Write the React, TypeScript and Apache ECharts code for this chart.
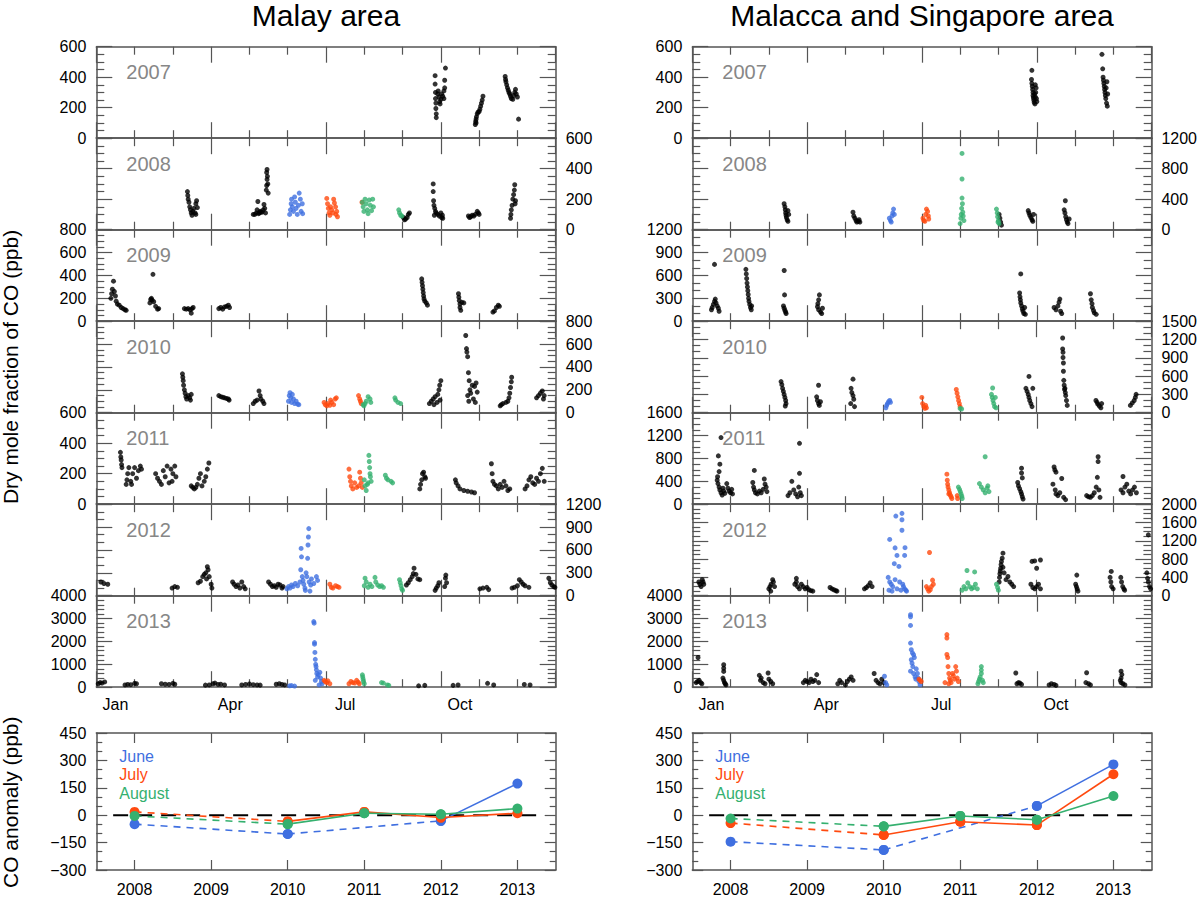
import React, { useEffect, useRef } from "react";
import * as echarts from "echarts";

// ---------------- data ----------------
const panelYears = [2007, 2008, 2009, 2010, 2011, 2012, 2013];
const monthLabels = ["Jan", "Apr", "Jul", "Oct"];
const monthLabelAt = [0.5, 3.5, 6.5, 9.5];
const anomalyYears = [2008, 2009, 2010, 2011, 2012, 2013];
const anomalyLegend = ["June", "July", "August"];
const zeroLineSpan = [2007.72, 2013.25];

const malayMax = [600, 600, 800, 800, 600, 1200, 4000];
const malayStep = [200, 200, 200, 200, 200, 300, 1000];
const malayMinor = [4, 4, 4, 4, 4, 3, 5];
const malaccaMax = [600, 1200, 1200, 1500, 1600, 2000, 4000];
const malaccaStep = [200, 400, 300, 300, 400, 400, 1000];
const malaccaMinor = [4, 4, 3, 3, 4, 4, 5];
const anomalyMin = -300;
const anomalyMax = 450;
const anomalyStep = 150;

// CO anomaly (ppb) per year 2008..2013 (null = no data)
const malayJuneAnomaly = [-49, null, -103, null, -31, 173];
const malayJulyAnomaly = [18, null, -34, 18, -13, 11];
const malayAugustAnomaly = [-4, null, -49, 11, 5, 36];
const malaccaJuneAnomaly = [-145, null, -190, null, 51, 278];
const malaccaJulyAnomaly = [-43, null, -108, -36, -54, 224];
const malaccaAugustAnomaly = [-18, null, -61, -4, -25, 105];

// scatter: [month (0..12), CO ppb]
const malay2007Black = [[8.85,410],[8.85,355],[8.86,300],[8.86,260],[8.87,230],[8.87,195],[8.88,160],[8.88,135],[8.92,290],[8.93,310],[8.95,270],[8.97,240],[8.98,225],[9.0,255],[9.02,290],[9.05,275],[9.08,310],[9.08,260],[9.1,330],[9.1,380],[9.12,460],
  [9.9,90],[9.91,110],[9.92,100],[9.92,125],[9.93,140],[9.95,160],[9.97,170],[10.0,175],[10.02,190],[10.04,210],[10.06,230],[10.08,250],[10.1,275],
  [10.68,405],[10.69,385],[10.7,370],[10.72,350],[10.74,330],[10.76,315],[10.78,300],[10.8,290],[10.82,275],[10.84,260],[10.88,255],[10.9,280],[10.93,300],[10.95,320],[10.97,290],[11.0,270],[11.03,125]];

const malay2008Black = [[2.38,250],[2.39,225],[2.4,200],[2.42,180],[2.44,150],[2.46,130],[2.48,110],[2.5,95],[2.52,120],[2.55,140],[2.58,110],[2.6,170],[2.6,100],[2.62,190],[2.64,145],
  [4.1,100],[4.14,100],[4.18,110],[4.2,130],[4.22,185],[4.24,105],[4.26,110],[4.28,120],[4.3,115],[4.33,115],[4.36,130],[4.38,165],[4.4,140],[4.42,110],[4.44,260],[4.45,290],[4.45,375],[4.46,330],[4.46,395],[4.47,350],[4.48,300],[4.49,240],
  [8.02,80],[8.05,65],[8.08,70],[8.12,80],[8.15,100],[8.18,110],
  [8.8,300],[8.8,250],[8.81,190],[8.82,160],[8.83,95],[8.84,140],[8.86,120],[8.88,110],[8.92,100],[8.96,90],[9.0,110],[9.02,80],[9.04,95],[9.05,75],
  [9.72,90],[9.75,80],[9.78,85],[9.82,95],[9.86,90],[9.9,100],[9.95,120],[9.98,110],[10.0,100],
  [10.82,75],[10.83,100],[10.84,130],[10.86,160],[10.88,200],[10.9,230],[10.92,260],[10.93,295],[10.94,170],[10.95,190]];
const malay2008June = [[5.05,100],[5.07,130],[5.09,170],[5.1,200],[5.12,150],[5.15,120],[5.18,215],[5.2,180],[5.22,140],[5.25,100],[5.28,160],[5.3,240],[5.33,200],[5.35,120],[5.38,170],[5.39,105]];
const malay2008July = [[6.02,205],[6.04,170],[6.06,140],[6.08,110],[6.1,95],[6.12,150],[6.15,130],[6.18,110],[6.2,200],[6.22,175],[6.25,150],[6.26,100],[6.28,120],[6.3,85],[6.94,180]];
const malay2008August = [[6.95,180],[6.97,150],[6.99,120],[7.02,200],[7.05,170],[7.08,130],[7.1,105],[7.13,195],[7.16,160],[7.19,125],[7.22,200],[7.24,150],[7.9,130],[7.92,110],[7.95,95],[7.98,90]];

const malay2009Black = [[0.38,200],[0.4,240],[0.42,280],[0.45,350],[0.47,260],[0.5,220],[0.52,175],[0.55,150],[0.6,140],[0.65,120],[0.7,110],[0.75,100],[0.78,95],
  [1.4,160],[1.42,190],[1.44,200],[1.46,185],[1.48,410],[1.5,170],[1.55,130],[1.6,105],[1.63,110],
  [2.3,110],[2.35,105],[2.4,110],[2.45,100],[2.48,70],[2.5,110],[2.53,120],
  [3.2,110],[3.25,120],[3.3,105],[3.35,125],[3.4,130],[3.45,140],[3.48,120],
  [8.5,370],[8.51,340],[8.52,310],[8.53,280],[8.54,250],[8.55,220],[8.56,195],[8.58,175],[8.62,160],[8.65,140],
  [9.46,240],[9.47,210],[9.48,180],[9.5,150],[9.5,120],[9.52,95],[9.55,165],[9.6,160],
  [10.36,80],[10.4,90],[10.45,120],[10.5,140],[10.53,130]];

const malay2010Black = [[2.25,340],[2.26,310],[2.27,280],[2.28,240],[2.3,200],[2.32,170],[2.34,140],[2.36,120],[2.4,150],[2.44,130],[2.46,110],[2.48,160],
  [3.2,150],[3.25,140],[3.3,135],[3.35,130],[3.4,125],[3.45,120],[3.47,110],
  [4.1,80],[4.15,100],[4.2,110],[4.25,190],[4.28,150],[4.3,120],[4.35,100],[4.38,80],
  [8.7,80],[8.75,100],[8.8,120],[8.82,70],[8.85,140],[8.9,90],[8.92,160],[8.95,200],[8.97,240],[8.98,110],[9.0,280],
  [9.65,675],[9.67,560],[9.68,530],[9.7,490],[9.7,150],[9.72,350],[9.73,100],[9.74,280],[9.76,200],[9.78,170],[9.82,240],[9.85,120],[9.88,230],[9.9,90],[9.92,260],[9.95,180],
  [10.55,60],[10.58,70],[10.62,80],[10.7,90],[10.75,100],[10.78,130],[10.8,170],[10.82,220],[10.84,270],[10.85,310],
  [11.5,130],[11.55,150],[11.6,170],[11.65,190],[11.68,120],[11.7,150]];
const malay2010June = [[5.02,100],[5.04,150],[5.06,175],[5.08,130],[5.1,90],[5.12,160],[5.15,120],[5.18,80],[5.22,100],[5.26,75],[5.29,70]];
const malay2010July = [[5.95,90],[5.98,70],[6.02,60],[6.05,80],[6.1,65],[6.12,110],[6.15,90],[6.2,70],[6.24,120],[6.27,130],[6.85,150],[6.88,120],[6.9,100],[6.92,80]];
const malay2010August = [[6.97,70],[6.99,60],[7.02,80],[7.05,100],[7.1,140],[7.15,120],[7.17,90],[7.8,130],[7.82,110],[7.88,90],[7.95,80]];

const malay2011Black = [[0.63,340],[0.64,310],[0.65,290],[0.66,260],[0.67,240],
  [0.78,130],[0.8,160],[0.82,200],[0.85,240],[0.9,150],[0.92,130],[0.95,200],[1.0,240],[1.05,170],[1.1,220],[1.15,250],[1.18,230],
  [1.55,200],[1.6,170],[1.65,150],[1.7,130],[1.75,220],[1.8,180],[1.85,250],[1.9,140],[1.95,230],[1.98,150],[2.0,200],[2.05,250],[2.08,180],
  [2.48,120],[2.52,110],[2.56,100],[2.6,110],[2.64,130],[2.68,170],[2.72,200],[2.76,120],[2.82,150],[2.86,180],[2.9,230],[2.94,270],
  [8.45,100],[8.47,130],[8.5,160],[8.52,200],[8.55,210],[8.58,180],[8.6,170],
  [9.38,160],[9.4,140],[9.45,120],[9.5,100],[9.6,90],[9.7,85],[9.8,80],[9.88,75],
  [10.32,265],[10.34,200],[10.36,150],[10.4,130],[10.45,120],[10.5,100],[10.55,130],[10.6,110],[10.65,150],[10.7,120],[10.75,90],[10.8,100],
  [11.2,100],[11.25,120],[11.3,160],[11.35,180],[11.4,140],[11.45,130],[11.5,170],[11.55,150],[11.6,200],[11.65,235],[11.7,150]];
const malay2011July = [[6.6,230],[6.62,180],[6.64,150],[6.66,120],[6.7,100],[6.75,140],[6.8,110],[6.85,120],[6.88,210],[6.9,170],[6.92,140],[6.95,110]];
const malay2011August = [[7.0,160],[7.02,120],[7.05,90],[7.08,130],[7.1,140],[7.12,320],[7.13,280],[7.14,240],[7.15,200],[7.16,180],[7.18,150],[7.55,190],[7.58,170],[7.62,160],[7.7,150],[7.74,140]];

const malay2012Black = [[0.12,180],[0.2,160],[0.3,150],
  [1.98,100],[2.05,120],[2.12,110],
  [2.66,170],[2.72,190],[2.78,250],[2.82,280],[2.86,300],[2.88,220],[2.9,380],[2.92,340],[2.95,250],[3.0,150],[3.02,100],
  [3.56,180],[3.6,150],[3.65,120],[3.7,140],[3.75,100],[3.8,180],[3.85,120],[3.89,90],
  [4.5,180],[4.55,150],[4.6,120],[4.65,130],[4.7,110],[4.75,150],[4.8,140],[4.85,100],[4.88,120],
  [8.1,140],[8.15,170],[8.2,210],[8.25,250],[8.28,290],[8.3,360],[8.35,280],[8.4,220],[8.45,210],
  [8.85,70],[8.88,100],[8.92,130],[8.95,170],[9.1,120],[9.12,230],[9.13,270],[9.15,170],
  [10.02,90],[10.1,100],[10.2,110],[10.25,80],
  [10.86,100],[10.92,110],[11.0,130],[11.05,210],[11.1,180],[11.15,150],[11.2,130],[11.3,110],
  [11.82,230],[11.86,170],[11.9,140],[11.95,120],[11.98,110]];
const malay2012June = [[4.98,90],[5.02,120],[5.06,100],[5.1,140],[5.14,120],[5.2,160],[5.26,130],[5.32,180],[5.34,340],[5.35,620],[5.36,510],[5.38,250],[5.4,200],[5.42,150],[5.45,100],[5.46,70],[5.48,300],[5.5,250],[5.52,490],[5.53,665],[5.54,770],[5.55,880],[5.56,180],[5.58,60],[5.6,140],[5.62,220],[5.68,160],[5.75,250],[5.78,200]];
const malay2012July = [[6.1,150],[6.14,110],[6.18,100],[6.25,130],[6.3,120],[6.34,110]];
const malay2012August = [[7.0,130],[7.02,230],[7.05,180],[7.1,110],[7.15,150],[7.2,120],[7.28,240],[7.3,180],[7.35,140],[7.4,120],[7.45,130],[7.5,110],[7.92,210],[7.94,170],[7.96,130],[7.98,90],[8.0,70]];

const malay2013Black = [[0.05,150],[0.1,200],[0.15,180],[0.22,230],
  [0.75,100],[0.82,120],[0.9,110],[1.0,170],[1.05,150],
  [1.7,150],[1.8,130],[1.9,120],[2.0,170],[2.05,130],
  [2.85,90],[2.95,100],[3.05,150],[3.1,180],[3.18,120],[3.25,130],[3.35,100],
  [3.8,100],[3.9,120],[4.0,140],[4.1,110],[4.2,100],[4.28,90],
  [4.7,130],[4.78,150],[4.85,120],[4.92,100],
  [8.42,60],[8.58,80],[9.32,80],[9.45,100],[10.22,170],[10.38,100],[11.18,120],[11.33,100]];
const malay2013June = [[5.05,60],[5.1,70],[5.18,50],[5.68,2870],[5.69,2800],[5.7,1950],[5.7,1880],[5.71,1520],[5.72,1220],[5.72,300],[5.73,1000],[5.74,900],[5.75,760],[5.76,600],[5.78,450],[5.8,550],[5.82,100],[5.84,650],[5.86,400],[5.88,250],[5.9,150]];
const malay2013July = [[5.95,300],[5.98,250],[6.02,200],[6.05,280],[6.1,150],[6.6,150],[6.65,250],[6.7,200],[6.75,180],[6.8,300],[6.84,220],[6.87,150]];
const malay2013August = [[6.95,540],[6.96,450],[6.97,350],[6.98,250],[7.0,150],[7.45,200],[7.5,180],[7.6,100],[7.64,80]];

const malacca2007Black = [[8.86,385],[8.87,445],[8.87,360],[8.88,340],[8.89,320],[8.9,300],[8.9,280],[8.91,265],[8.92,250],[8.93,235],[8.94,290],[8.95,225],[8.96,270],[8.96,350],[8.97,300],[8.98,330],[8.99,260],[9.0,240],
  [10.7,550],[10.72,455],[10.73,400],[10.74,380],[10.75,360],[10.76,340],[10.77,320],[10.78,300],[10.79,280],[10.8,260],[10.81,330],[10.82,230],[10.83,370],[10.84,210],[10.85,290]];

const malacca2008Black = [[2.4,340],[2.42,300],[2.43,260],[2.44,220],[2.45,190],[2.46,160],[2.48,130],[2.5,110],[2.5,250],[2.52,200],
  [4.2,230],[4.22,180],[4.25,150],[4.28,120],[4.3,100],[4.34,110],[4.36,130],[4.38,100],
  [8.02,200],[8.04,150],[8.06,100],[8.08,60],
  [8.78,250],[8.8,220],[8.82,190],[8.85,160],[8.88,130],[8.9,110],[8.92,200],
  [9.72,260],[9.74,220],[9.75,380],[9.76,170],[9.78,130],[9.8,100],[9.82,80],[9.85,140]];
const malacca2008June = [[5.15,150],[5.18,120],[5.2,100],[5.22,180],[5.24,220],[5.26,270],[5.28,200]];
const malacca2008July = [[6.03,150],[6.05,120],[6.08,110],[6.1,200],[6.12,270],[6.15,240],[6.17,180],[6.18,140]];
const malacca2008August = [[7.0,80],[7.02,150],[7.03,200],[7.04,280],[7.05,415],[7.05,665],[7.05,1000],[7.06,340],[7.07,230],[7.08,180],[7.1,120],
  [7.95,270],[7.97,220],[7.98,170],[7.99,100],[8.0,120],[8.02,80]];

const malacca2009Black = [[0.5,150],[0.52,180],[0.55,220],[0.58,260],[0.58,745],[0.6,290],[0.62,240],[0.65,200],[0.68,170],[0.7,130],
  [1.4,680],[1.41,620],[1.42,560],[1.43,500],[1.44,450],[1.45,400],[1.46,350],[1.47,300],[1.48,260],[1.5,220],[1.52,180],[1.54,150],[1.55,200],
  [2.38,200],[2.4,665],[2.4,170],[2.41,345],[2.42,140],[2.44,120],[2.45,100],
  [3.27,190],[3.28,230],[3.3,280],[3.3,150],[3.32,345],[3.35,120],[3.38,100],[3.4,170],
  [8.55,370],[8.56,320],[8.57,280],[8.58,620],[8.58,240],[8.6,200],[8.62,160],[8.64,130],[8.66,100],[8.68,180],[8.7,90],
  [9.45,180],[9.5,150],[9.55,200],[9.58,250],[9.6,290],[9.62,130],[9.65,100],
  [10.4,360],[10.42,280],[10.44,230],[10.45,180],[10.48,140],[10.5,110],[10.55,90]];

const malacca2010Black = [[2.32,510],[2.34,460],[2.36,400],[2.38,350],[2.4,300],[2.42,250],[2.43,110],[2.44,200],[2.45,150],
  [3.25,260],[3.27,200],[3.3,450],[3.3,150],[3.32,120],[3.35,180],
  [4.14,150],[4.15,400],[4.17,330],[4.2,550],[4.2,280],[4.22,220],[4.24,100],
  [8.72,400],[8.75,350],[8.78,300],[8.8,595],[8.8,250],[8.82,200],[8.85,150],[8.88,100],[8.9,400],
  [9.68,1225],[9.68,1045],[9.69,990],[9.69,905],[9.7,815],[9.7,680],[9.71,530],[9.72,450],[9.73,380],[9.74,400],[9.75,330],[9.76,280],[9.78,200],[9.8,120],
  [10.55,200],[10.58,170],[10.6,140],[10.64,110],[10.68,80],[10.7,150],
  [11.45,120],[11.5,160],[11.55,200],[11.58,250],[11.6,300]];
const malacca2010June = [[5.06,80],[5.08,120],[5.1,150],[5.13,180],[5.16,200],[5.18,170]];
const malacca2010July = [[6.0,250],[6.02,150],[6.05,100],[6.08,70],[6.1,120],[6.12,80],[6.9,380],[6.92,320],[6.94,260],[6.96,200],[6.98,150],[7.0,100]];
const malacca2010August = [[7.0,70],[7.04,60],[7.82,300],[7.84,250],[7.85,405],[7.86,200],[7.88,150],[7.9,100],[7.92,250],[7.94,80]];

const malacca2011Black = [[0.65,420],[0.66,480],[0.67,360],[0.68,845],[0.7,570],[0.7,300],[0.72,700],[0.72,250],[0.75,1165],[0.75,200],[0.78,160],[0.8,280],[0.82,230],[0.85,190],
  [0.9,360],[0.93,280],[0.96,230],[1.0,200],[1.03,260],[1.05,180],
  [1.58,380],[1.6,300],[1.62,590],[1.62,250],[1.65,200],[1.7,180],[1.75,230],[1.8,200],[1.85,260],[1.88,440],[1.9,350],[1.93,300],[1.95,220],
  [2.5,150],[2.55,200],[2.6,400],[2.65,250],[2.7,180],[2.75,130],[2.78,300],[2.8,1065],[2.8,540],[2.82,200],[2.85,150],
  [8.5,380],[8.52,320],[8.55,270],[8.58,220],[8.6,630],[8.6,545],[8.6,180],[8.62,460],[8.62,130],[8.64,90],
  [9.42,350],[9.45,650],[9.47,600],[9.48,250],[9.5,560],[9.5,180],[9.55,150],[9.6,200],[9.65,450],[9.7,120],[9.75,80],
  [10.3,150],[10.35,130],[10.4,120],[10.45,150],[10.5,200],[10.55,300],[10.58,470],[10.6,830],[10.6,745],[10.62,250],[10.65,120],
  [11.2,250],[11.25,485],[11.25,200],[11.3,300],[11.35,350],[11.4,230],[11.45,180],[11.5,250],[11.55,300],[11.6,200]];
const malacca2011July = [[6.65,525],[6.66,420],[6.67,350],[6.68,300],[6.7,250],[6.7,180],[6.72,200],[6.74,160],[6.76,130],[6.78,100],[6.92,150],[6.93,100]];
const malacca2011August = [[6.95,300],[6.98,260],[7.0,220],[7.02,180],[7.04,140],[7.05,100],[7.5,360],[7.55,300],[7.6,250],[7.65,830],[7.65,200],[7.7,280],[7.72,320],[7.75,220]];

const malacca2012Black = [[0.17,300],[0.2,250],[0.23,200],[0.26,350],[0.28,300],[0.3,250],
  [2.0,150],[2.03,200],[2.05,100],[2.06,250],[2.1,350],[2.12,300],[2.15,200],
  [2.68,250],[2.72,380],[2.72,300],[2.75,200],[2.8,150],[2.85,250],[2.9,200],[2.95,150],[3.0,180],[3.05,130],[3.1,110],[3.15,100],
  [3.6,180],[3.65,150],[3.7,130],[3.75,110],[3.78,100],
  [4.5,150],[4.55,180],[4.6,220],[4.65,280],[4.7,200],
  [8.02,300],[8.03,400],[8.04,480],[8.05,540],[8.06,600],[8.07,680],[8.08,750],[8.1,820],[8.12,930],[8.12,620],[8.15,500],[8.2,350],[8.25,420],[8.3,300],[8.35,250],[8.4,200],
  [8.85,250],[8.88,750],[8.9,180],[8.95,760],[8.95,150],[9.0,600],[9.0,200],[9.05,250],[9.1,780],[9.1,150],
  [10.02,250],[10.04,200],[10.05,450],[10.06,150],[10.08,100],
  [10.92,400],[10.94,300],[10.95,530],[10.96,200],[11.0,150],[11.2,400],[11.22,300],[11.25,200],[11.28,150],[11.3,120],
  [11.88,500],[11.9,380],[11.92,1330],[11.92,300],[11.95,200],[11.98,150]];
const malacca2012June = [[5.12,400],[5.14,120],[5.16,1230],[5.16,300],[5.2,250],[5.22,100],[5.24,200],[5.28,700],[5.3,1045],[5.3,350],[5.32,1740],[5.35,880],[5.35,150],[5.4,640],[5.42,300],[5.45,120],[5.48,1800],[5.48,1660],[5.48,1430],[5.5,250],[5.52,200],[5.55,880],[5.55,150],[5.56,1050],[5.58,120],[5.6,100]];
const malacca2012July = [[6.12,200],[6.15,150],[6.18,100],[6.2,945],[6.22,130],[6.25,200],[6.28,340],[6.3,250]];
const malacca2012August = [[7.05,120],[7.1,200],[7.15,150],[7.18,550],[7.2,280],[7.25,200],[7.3,150],[7.35,180],[7.38,520],[7.4,250],[7.45,150],[7.95,250],[7.98,180],[8.0,120]];

const malacca2013Black = [[0.1,200],[0.14,250],[0.15,1300],[0.18,300],[0.22,200],[0.25,150],
  [0.8,400],[0.82,980],[0.82,830],[0.82,690],[0.82,300],[0.84,200],[0.86,150],[0.88,100],
  [1.75,520],[1.78,300],[1.8,400],[1.85,200],[1.9,150],[1.98,620],[2.0,350],[2.05,250],[2.1,150],
  [2.9,200],[2.95,300],[3.0,250],[3.05,200],[3.1,350],[3.15,250],[3.2,300],[3.25,550],[3.3,200],
  [3.8,150],[3.85,300],[3.9,200],[4.0,100],[4.05,250],[4.1,350],[4.15,450],[4.2,300],
  [4.75,600],[4.8,300],[4.85,200],[4.9,150],[4.95,350],[5.0,200],
  [8.45,620],[8.48,150],[8.52,200],[8.56,180],[8.6,120],
  [9.32,100],[9.38,150],[9.45,120],[9.5,80],
  [10.28,200],[10.3,630],[10.35,150],[10.4,100],
  [11.18,300],[11.2,700],[11.2,400],[11.2,200],[11.22,550],[11.25,150],[11.3,100]];
const malacca2013June = [[5.02,480],[5.05,200],[5.08,100],[5.7,3170],[5.7,3080],[5.7,2700],[5.7,1930],[5.7,700],[5.72,1640],[5.72,1200],[5.74,1050],[5.75,1500],[5.76,900],[5.78,1420],[5.78,600],[5.8,1300],[5.82,450],[5.84,350],[5.85,800],[5.88,600],[5.9,400],[5.92,250],[5.95,100]];
const malacca2013July = [[5.92,350],[5.95,300],[5.98,250],[6.6,200],[6.65,2300],[6.65,2150],[6.65,1430],[6.67,1300],[6.68,900],[6.7,600],[6.7,150],[6.72,400],[6.74,300],[6.76,200],[6.8,600],[6.82,500],[6.85,350],[6.88,900],[6.9,700],[6.92,400],[6.95,250]];
const malacca2013August = [[7.46,150],[7.48,250],[7.5,350],[7.52,450],[7.55,900],[7.55,750],[7.55,600],[7.58,300],[7.6,200]];

const E: number[][] = [];
// per year: [black, June, July, August]
const malayPanels = [
  [malay2007Black, E, E, E],
  [malay2008Black, malay2008June, malay2008July, malay2008August],
  [malay2009Black, E, E, E],
  [malay2010Black, malay2010June, malay2010July, malay2010August],
  [malay2011Black, E, malay2011July, malay2011August],
  [malay2012Black, malay2012June, malay2012July, malay2012August],
  [malay2013Black, malay2013June, malay2013July, malay2013August],
];
const malaccaPanels = [
  [malacca2007Black, E, E, E],
  [malacca2008Black, malacca2008June, malacca2008July, malacca2008August],
  [malacca2009Black, E, E, E],
  [malacca2010Black, malacca2010June, malacca2010July, malacca2010August],
  [malacca2011Black, E, malacca2011July, malacca2011August],
  [malacca2012Black, malacca2012June, malacca2012July, malacca2012August],
  [malacca2013Black, malacca2013June, malacca2013July, malacca2013August],
];

// ---------------- style / layout ----------------
const FONT = "'Liberation Sans', Arial, Helvetica, sans-serif";
const AXIS_COLOR = "#555";
const SERIES_COLORS = ["#000000", "#3f6fe0", "#ff4a0f", "#35b06f"];
const COL_LEFT = [96.3, 692.3];
const PLOT_W = 459.4;
const PANEL_TOP0 = 46.7;
const PANEL_H = 91.5;
const ANOM_TOP = 733;
const ANOM_H = 138.5;

const lineStyle = { color: AXIS_COLOR, width: 1.5 };
const tickStyle = { color: AXIS_COLOR, width: 1.2 };
const plainNumber = (v: number) => String(v);

function monthAxis(gridIndex: number, position: string, showLabels: boolean) {
  return {
    type: "value",
    gridIndex,
    position,
    min: 0,
    max: 12,
    interval: 3,
    axisLine: { show: true, onZero: false, lineStyle },
    axisTick: { show: true, inside: true, length: 16, lineStyle: tickStyle },
    minorTick: { show: true, splitNumber: 3, length: 8, lineStyle: tickStyle },
    splitLine: { show: false },
    minorSplitLine: { show: false },
    axisLabel: showLabels
      ? {
          show: true,
          customValues: monthLabelAt,
          formatter: (v: number) => {
            const k = monthLabelAt.findIndex((m) => Math.abs(m - v) < 1e-6);
            return k >= 0 ? monthLabels[k] : "";
          },
          fontSize: 16,
          fontFamily: FONT,
          color: "#000",
          margin: 9,
        }
      : { show: false },
  };
}

function valueAxis(gridIndex: number, position: string, max: number, step: number, minor: number, showLabels: boolean) {
  return {
    type: "value",
    gridIndex,
    position,
    min: 0,
    max,
    interval: step,
    axisLine: { show: true, onZero: false, lineStyle },
    axisTick: { show: true, inside: true, length: 16, lineStyle: tickStyle },
    minorTick: { show: true, splitNumber: minor, length: 8, lineStyle: tickStyle },
    splitLine: { show: false },
    minorSplitLine: { show: false },
    axisLabel: {
      show: showLabels,
      fontSize: 16,
      fontFamily: FONT,
      color: "#000",
      margin: 10,
      showMinLabel: true,
      showMaxLabel: true,
      formatter: plainNumber,
    },
  };
}

function buildOption() {
  const grid: any[] = [];
  const xAxis: any[] = [];
  const yAxis: any[] = [];
  const series: any[] = [];
  const graphic: any[] = [];

  const columns = [
    {
      title: "Malay area",
      panels: malayPanels,
      max: malayMax,
      step: malayStep,
      minor: malayMinor,
      anomalies: [malayJuneAnomaly, malayJulyAnomaly, malayAugustAnomaly],
    },
    {
      title: "Malacca and Singapore area",
      panels: malaccaPanels,
      max: malaccaMax,
      step: malaccaStep,
      minor: malaccaMinor,
      anomalies: [malaccaJuneAnomaly, malaccaJulyAnomaly, malaccaAugustAnomaly],
    },
  ];

  columns.forEach((col, c) => {
    const left = COL_LEFT[c];
    graphic.push({
      type: "text",
      x: left + PLOT_W / 2,
      y: 15,
      style: { text: col.title, fontSize: 30, fontFamily: FONT, fill: "#000", align: "center", verticalAlign: "middle" },
    });

    col.panels.forEach((groups, i) => {
      const top = PANEL_TOP0 + i * PANEL_H;
      const gi = grid.length;
      grid.push({ left, top, width: PLOT_W, height: PANEL_H, show: false });
      const xi = xAxis.length;
      xAxis.push(monthAxis(gi, "bottom", i === col.panels.length - 1));
      xAxis.push(monthAxis(gi, "top", false));
      const yi = yAxis.length;
      yAxis.push(valueAxis(gi, "left", col.max[i], col.step[i], col.minor[i], i % 2 === 0));
      yAxis.push(valueAxis(gi, "right", col.max[i], col.step[i], col.minor[i], i % 2 === 1));
      groups.forEach((data, k) => {
        if (!data.length) return;
        series.push({
          type: "scatter",
          xAxisIndex: xi,
          yAxisIndex: yi,
          data,
          symbol: "circle",
          symbolSize: 5,
          itemStyle: { color: SERIES_COLORS[k] },
          silent: true,
          z: 3,
        });
      });
      graphic.push({
        type: "text",
        x: left + 30,
        y: top + 25.5,
        style: { text: String(panelYears[i]), fontSize: 20, fontFamily: FONT, fill: "#878787", verticalAlign: "middle" },
      });
    });

    // anomaly chart
    const ag = grid.length;
    grid.push({ left, top: ANOM_TOP, width: PLOT_W, height: ANOM_H, show: false });
    const axi = xAxis.length;
    const yearAxis = (position: string, showLabels: boolean) => ({
      type: "value",
      gridIndex: ag,
      position,
      min: anomalyYears[0] - 0.5,
      max: anomalyYears[anomalyYears.length - 1] + 0.5,
      axisLine: { show: true, onZero: false, lineStyle },
      axisTick: { show: true, inside: true, length: 10, customValues: anomalyYears, lineStyle: tickStyle },
      splitLine: { show: false },
      axisLabel: showLabels
        ? { show: true, customValues: anomalyYears, fontSize: 16, fontFamily: FONT, color: "#000", margin: 11, formatter: (v: number) => String(Math.round(v)) }
        : { show: false },
    });
    xAxis.push(yearAxis("bottom", true));
    xAxis.push(yearAxis("top", false));
    const ayi = yAxis.length;
    const anomY = (position: string, showLabels: boolean) => ({
      type: "value",
      gridIndex: ag,
      position,
      min: anomalyMin,
      max: anomalyMax,
      interval: anomalyStep,
      axisLine: { show: true, onZero: false, lineStyle },
      axisTick: { show: true, inside: true, length: 11, lineStyle: tickStyle },
      minorTick: { show: true, splitNumber: 3, length: 6, lineStyle: tickStyle },
      splitLine: { show: false },
      minorSplitLine: { show: false },
      axisLabel: {
        show: showLabels,
        fontSize: 16,
        fontFamily: FONT,
        color: "#000",
        margin: 10,
        showMinLabel: true,
        showMaxLabel: true,
        formatter: (v: number) => String(v).replace("-", "\u2212"),
      },
    });
    yAxis.push(anomY("left", true));
    yAxis.push(anomY("right", false));

    series.push({
      type: "line",
      xAxisIndex: axi,
      yAxisIndex: ayi,
      data: [[zeroLineSpan[0], 0], [zeroLineSpan[1], 0]],
      symbol: "none",
      lineStyle: { color: "#000", width: 2, type: [15, 9] },
      silent: true,
      z: 2,
    });

    col.anomalies.forEach((vals, k) => {
      const color = SERIES_COLORS[k + 1];
      const pts: number[][] = [];
      vals.forEach((v, j) => {
        if (v !== null) pts.push([anomalyYears[j], v as number]);
      });
      for (let j = 0; j + 1 < pts.length; j++) {
        const a = pts[j];
        const b = pts[j + 1];
        const dashed = b[0] - a[0] > 1;
        series.push({
          type: "line",
          xAxisIndex: axi,
          yAxisIndex: ayi,
          data: [a, b],
          symbol: "circle",
          symbolSize: 10,
          showSymbol: true,
          itemStyle: { color },
          lineStyle: { color, width: 1.6, type: dashed ? [7, 6] : "solid" },
          silent: true,
          z: 3,
        });
      }
      graphic.push({
        type: "text",
        x: left + 23,
        y: ANOM_TOP + 23 + k * 18.5,
        style: { text: anomalyLegend[k], fontSize: 16, fontFamily: FONT, fill: color, verticalAlign: "middle" },
      });
    });
  });

  graphic.push({
    type: "text",
    x: 10.5,
    y: (PANEL_TOP0 + PANEL_TOP0 + 7 * PANEL_H) / 2,
    rotation: Math.PI / 2,
    style: { text: "Dry mole fraction of CO (ppb)", fontSize: 21, fontFamily: FONT, fill: "#000", align: "center", verticalAlign: "middle" },
  });
  graphic.push({
    type: "text",
    x: 10.5,
    y: ANOM_TOP + ANOM_H / 2,
    rotation: Math.PI / 2,
    style: { text: "CO anomaly (ppb)", fontSize: 21, fontFamily: FONT, fill: "#000", align: "center", verticalAlign: "middle" },
  });

  return {
    animation: false,
    backgroundColor: "#fff",
    textStyle: { fontFamily: FONT },
    grid,
    xAxis,
    yAxis,
    series,
    graphic,
  };
}

export default function App() {
  const ref = useRef<HTMLDivElement>(null);
  useEffect(() => {
    if (!ref.current) return;
    const chart = echarts.init(ref.current, null, { renderer: "svg" });
    chart.setOption(buildOption() as any);
    return () => chart.dispose();
  }, []);
  return (
    <div
      ref={ref}
      style={{ position: "fixed", left: 0, top: 0, width: 1200, height: 897, background: "#fff" }}
    />
  );
}
